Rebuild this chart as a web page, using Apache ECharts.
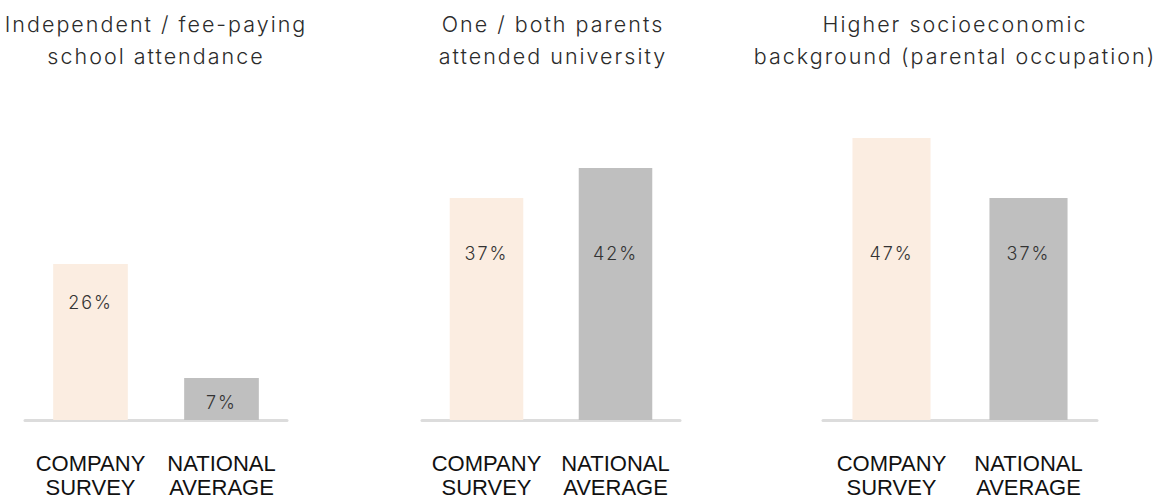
<!DOCTYPE html>
<html>
<head>
<meta charset="utf-8">
<script src="https://cdn.jsdelivr.net/npm/echarts@6/dist/echarts.min.js"></script>
<style>
  html, body { margin: 0; padding: 0; background: #fff; }
  #chart { width: 1163px; height: 500px; }
  /* airy tracking for the titles and value labels (Inter text only) */
  #chart text[style*="Inter"] { letter-spacing: 2px; }
</style>
</head>
<body>
<div id="chart"></div>
<script>
// Panel titles (two lines each)
const panelTitles = [
  'Independent / fee-paying\nschool attendance',
  'One / both parents\nattended university',
  'Higher socioeconomic\nbackground (parental occupation)'
];

// Bar categories shared by all three panels
const categories = ['COMPANY\nSURVEY', 'NATIONAL\nAVERAGE'];

// Percentages per panel: [company survey, national average]
const schoolValues = [26, 7];
const parentsUniValues = [37, 42];
const socioValues = [47, 37];

const panelValues = [schoolValues, parentsUniValues, socioValues];

// Layout per panel (pixels)
const gridLeft = [25, 422, 823];
const gridWidth = [262, 258, 274];
const titleCenter = [156, 553, 955];
// distance from a bar's top edge to the centre of its value label
const labelInset = [[38, 24], [55, 85], [115, 55]];

const barColors = ['#fbede1', '#bfbfbf'];
const textFont = 'Inter, "Open Sans", sans-serif';
const axisFont = '"Liberation Sans", Arial, sans-serif';

const grids = [], xAxes = [], yAxes = [], series = [], titles = [];

panelValues.forEach((vals, i) => {
  grids.push({
    left: gridLeft[i], width: gridWidth[i], top: 120, bottom: 80,
    outerBoundsMode: 'none', containLabel: false
  });
  titles.push({
    text: panelTitles[i],
    left: titleCenter[i],
    top: 8,
    padding: 0,
    textAlign: 'center',
    textStyle: {
      fontFamily: textFont, fontWeight: 300, fontSize: 21.5,
      color: '#2b2b2b', lineHeight: 32
    }
  });
  xAxes.push({
    type: 'category', gridIndex: i, data: categories,
    axisLine: { show: true, lineStyle: { color: '#dcdcdc', width: 3 } },
    axisTick: { show: false },
    axisLabel: {
      fontFamily: axisFont, fontSize: 22, color: '#111',
      lineHeight: 24.5, margin: 31, interval: 0
    }
  });
  yAxes.push({
    type: 'value', gridIndex: i, min: 0, max: 50, show: false,
    splitLine: { show: false }
  });
  series.push({
    type: 'bar', xAxisIndex: i, yAxisIndex: i,
    barWidth: '57%',
    silent: true,
    data: vals.map((v, j) => ({
      value: v,
      itemStyle: { color: barColors[j] },
      label: {
        show: true,
        position: ['50%', labelInset[i][j]],
        align: 'center',
        verticalAlign: 'middle',
        formatter: '{c}%',
        fontFamily: textFont, fontWeight: 300, fontSize: 18, color: '#333'
      }
    }))
  });
});

const chart = echarts.init(document.getElementById('chart'), null, { renderer: 'svg' });
chart.setOption({
  animation: false,
  backgroundColor: '#ffffff',
  title: titles,
  grid: grids,
  xAxis: xAxes,
  yAxis: yAxes,
  series: series
});
</script>
</body>
</html>
